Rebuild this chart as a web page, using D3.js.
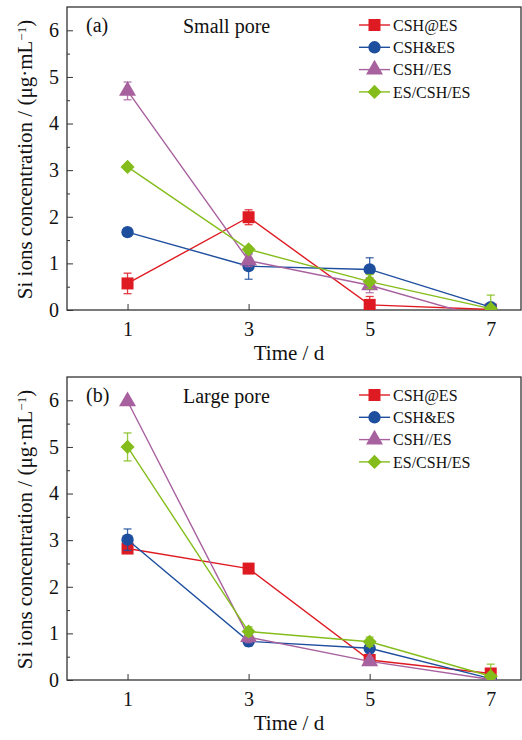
<!DOCTYPE html>
<html>
<head>
<meta charset="utf-8">
<script src="https://cdn.jsdelivr.net/npm/d3@7"></script>
<style>
  html, body { margin: 0; padding: 0; background: #fff; }
  svg { display: block; }
</style>
</head>
<body>
<div id="chart"></div>
<script>
const days = [1, 3, 5, 7];
const seriesNames = ['CSH@ES', 'CSH&ES', 'CSH//ES', 'ES/CSH/ES'];
const seriesColors = ['#de1b23', '#1e4e9e', '#a8619f', '#84bd1b'];
const yTicks = [0, 1, 2, 3, 4, 5, 6];
const xTicks = [1, 3, 5, 7];

// (a) small pore, one row per series
const smallPore = [
  [0.57, 1.99, 0.11, 0.01],
  [1.67, 0.94, 0.87, 0.06],
  [4.70, 1.06, 0.53, -0.21],
  [3.07, 1.30, 0.61, 0.03]
];
const smallPoreErr = [
  [0.22, 0.16, 0.18, 0.02],
  [0.08, 0.28, 0.25, 0.06],
  [0.19, 0.13, 0.16, 0.02],
  [0.04, 0.06, 0.15, 0.29]
];

// (b) large pore
const largePore = [
  [2.82, 2.39, 0.43, 0.14],
  [3.01, 0.83, 0.68, 0.03],
  [5.98, 0.92, 0.40, 0.01],
  [5.00, 1.04, 0.82, 0.08]
];
const largePoreErr = [
  [0.10, 0.04, 0.10, 0.10],
  [0.23, 0.10, 0.10, 0.04],
  [0.04, 0.12, 0.08, 0.02],
  [0.30, 0.10, 0.10, 0.26]
];

const W = 522, H = 740;
const font = '"Liberation Serif", "Times New Roman", serif';

const svg = d3.select('#chart').append('svg')
  .attr('width', W)
  .attr('height', H)
  .style('font-family', font);

const symbols = [
  { type: d3.symbolSquare, size: 144, rot: 0 },
  { type: d3.symbolCircle, size: 120, rot: 0 },
  { type: d3.symbolTriangle, size: 125, rot: 0 },
  { type: d3.symbolSquare, size: 100, rot: 45 }
];

function drawPanel(top, values, errs, tag, title, id) {
  const left = 67, right = 521;
  const bottom = top + 303;

  const x = d3.scaleLinear().domain([0, 7.5]).range([left, right]);
  const y = d3.scaleLinear().domain([0, 6.5]).range([bottom, top]);

  const g = svg.append('g');

  g.append('clipPath').attr('id', id)
    .append('rect')
    .attr('x', left).attr('y', top)
    .attr('width', right - left).attr('height', bottom - top);

  // minor y ticks
  g.append('g')
    .attr('transform', `translate(${left},0)`)
    .call(d3.axisLeft(y).tickValues(d3.range(0.5, 6.5, 1)).tickSize(-3).tickFormat(''))
    .call(a => a.select('.domain').remove())
    .selectAll('line').attr('stroke', '#333');

  // major y ticks
  const ya = g.append('g')
    .attr('transform', `translate(${left},0)`)
    .call(d3.axisLeft(y).tickValues(yTicks).tickFormat(d3.format('d'))
      .tickSizeInner(-6).tickSizeOuter(0).tickPadding(8));
  ya.select('.domain').remove();
  ya.selectAll('line').attr('stroke', '#333');
  ya.selectAll('text')
    .style('font-family', font)
    .style('font-size', '20px')
    .attr('fill', '#111');

  // x ticks
  const xa = g.append('g')
    .attr('transform', `translate(0,${bottom})`)
    .call(d3.axisBottom(x).tickValues(xTicks).tickFormat(d3.format('d'))
      .tickSizeInner(-6).tickSizeOuter(0).tickPadding(12));
  xa.select('.domain').remove();
  xa.selectAll('line').attr('stroke', '#333');
  xa.selectAll('text')
    .style('font-family', font)
    .style('font-size', '20px')
    .attr('fill', '#111');

  // frame
  g.append('rect')
    .attr('x', left).attr('y', top)
    .attr('width', right - left).attr('height', bottom - top)
    .attr('fill', 'none')
    .attr('stroke', '#333')
    .attr('stroke-width', 1.3);

  // axis titles
  g.append('text')
    .attr('x', (left + right) / 2 - 5)
    .attr('y', bottom + 50)
    .attr('text-anchor', 'middle')
    .style('font-size', '21px')
    .attr('fill', '#111')
    .text('Time / d');

  const yl = g.append('text')
    .attr('transform', `translate(32,${(top + bottom) / 2 + 1}) rotate(-90)`)
    .attr('text-anchor', 'middle')
    .style('font-size', '21px')
    .attr('fill', '#111');
  yl.append('tspan').text('Si ions concentration / (μg·mL');
  yl.append('tspan').attr('dy', '-0.45em').style('font-size', '13px').text('−1');
  yl.append('tspan').attr('dy', '0.3em').text(')');

  g.append('text')
    .attr('x', 86).attr('y', top + 25)
    .style('font-size', '20px')
    .attr('fill', '#111')
    .text(tag);
  g.append('text')
    .attr('x', 183).attr('y', top + 26)
    .style('font-size', '20px')
    .attr('fill', '#111')
    .text(title);

  // series
  const plot = g.append('g').attr('clip-path', `url(#${id})`);
  const line = d3.line().x((d, i) => x(days[i])).y(d => y(d));

  values.forEach((vals, s) => {
    const col = seriesColors[s];
    const sg = plot.append('g');
    sg.append('path')
      .datum(vals)
      .attr('d', line)
      .attr('fill', 'none')
      .attr('stroke', col)
      .attr('stroke-width', 1.4);

    sg.selectAll('path.mk')
      .data(vals)
      .join('path')
      .attr('class', 'mk')
      .attr('transform', (d, i) => `translate(${x(days[i])},${y(d)}) rotate(${symbols[s].rot})`)
      .attr('d', d3.symbol().type(symbols[s].type).size(symbols[s].size))
      .attr('fill', col);

    const eb = sg.selectAll('g.eb')
      .data(vals.map((v, i) => ({ v, e: errs[s][i], d: days[i] })))
      .join('g')
      .attr('class', 'eb')
      .attr('stroke', col)
      .attr('stroke-opacity', 0.85)
      .attr('stroke-width', 1.3);
    eb.append('line')
      .attr('x1', d => x(d.d)).attr('x2', d => x(d.d))
      .attr('y1', d => y(d.v - d.e)).attr('y2', d => y(d.v + d.e));
    eb.append('line')
      .attr('x1', d => x(d.d) - 4).attr('x2', d => x(d.d) + 4)
      .attr('y1', d => y(d.v + d.e)).attr('y2', d => y(d.v + d.e));
    eb.append('line')
      .attr('x1', d => x(d.d) - 4).attr('x2', d => x(d.d) + 4)
      .attr('y1', d => y(d.v - d.e)).attr('y2', d => y(d.v - d.e));
  });

  // legend
  const lg = g.append('g').attr('transform', `translate(359,${top + 18})`);
  seriesNames.forEach((name, s) => {
    const row = lg.append('g').attr('transform', `translate(0,${s * 22.3})`);
    row.append('line')
      .attr('x1', 0).attr('x2', 31)
      .attr('stroke', seriesColors[s])
      .attr('stroke-width', 1.4);
    row.append('path')
      .attr('transform', `translate(15.5,0) rotate(${symbols[s].rot})`)
      .attr('d', d3.symbol().type(symbols[s].type).size(symbols[s].size))
      .attr('fill', seriesColors[s]);
    row.append('text')
      .attr('x', 34)
      .attr('dy', '0.35em')
      .style('font-size', '16px')
      .attr('fill', '#111')
      .text(name);
  });
}

drawPanel(7, smallPore, smallPoreErr, '(a)', 'Small pore', 'clipA');
drawPanel(377, largePore, largePoreErr, '(b)', 'Large pore', 'clipB');
</script>
</body>
</html>
